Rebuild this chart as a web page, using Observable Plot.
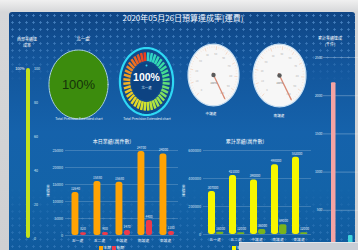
<!DOCTYPE html>
<html><head><meta charset="utf-8">
<script src="https://cdn.jsdelivr.net/npm/d3@7"></script>
<script src="https://cdn.jsdelivr.net/npm/@observablehq/plot@0.6"></script>
<style>
html,body{margin:0;padding:0;}
body{width:358px;height:250px;overflow:hidden;background:linear-gradient(180deg,#f0f0f0 0,#d6d7d9 12px,#cfd0d2 100%);font-family:"Noto Sans CJK TC","Noto Sans",sans-serif;}
#root{position:relative;width:358px;height:250px;overflow:hidden;}
#panel{position:absolute;left:9px;top:12px;width:346px;height:240px;border-radius:3px 3px 0 0;
 background:linear-gradient(180deg,#0f4584 0%,#13569c 22%,#1562ab 50%,#1363a8 75%,#105a9d 100%);}
#dots{position:absolute;left:9px;top:12px;width:346px;height:240px;
 background-image:radial-gradient(circle,rgba(120,180,240,.55) 0.9px,transparent 1.4px);background-size:7px 7px;
 -webkit-mask-image:linear-gradient(180deg,#000 0%,rgba(0,0,0,.7) 15%,rgba(0,0,0,0) 30%,rgba(0,0,0,0) 72%,rgba(0,0,0,.55) 100%);}
.t{position:absolute;color:#fff;white-space:nowrap;line-height:1;transform:translateX(-50%);text-align:center;}
.p{position:absolute;}
.p svg, svg.p{overflow:visible;}
</style></head>
<body><div id="root"><div id="panel"></div><div id="dots"></div></div>
<script>
// ---------- data ----------
const dashTitle = "2020年05月26日預算達成率(運費)";
const units = ["五一處","五二處","中護處","南護處","東護處"];
const seriesNames = ["本期","逾期"];
const dailyTitle = "本日業績(萬件數)";
const dailyActual = [12640, 15880, 15680, 24700, 24000];
const dailyOverdue = [820, 900, 1470, 4400, 1180];
const dailyTicks = [0, 5000, 10000, 15000, 20000, 25000];
const cumTitle = "累計業績(萬件數)";
const cumActual = [307000, 421000, 390000, 498000, 552000];
const cumOverdue = [16000, 12000, 36000, 69000, 12000];
const cumTicks = [0, 200000, 400000, 600000];
const westTitle = ["西部業績達", "成率"];
const westRate = 100;
const westTicks = [0, 20, 40, 60, 80, 100];
const northName = "北一處";
const northRate = 100;
const ringRate = 100;
const chartCaption = "Total Precision Extended chart";
const dialNames = ["中護處", "南護處"];
const dialValues = [100, 100];
const dialTicks = [0, 10, 20, 30, 40, 50, 60, 70, 80, 90, 100];
const totalTitle = ["累計業績達成", "(千件)"];
const totalNames = ["累計", "目標"];
const totalValues = [2170, 170];
const totalTicks = [0, 500, 1000, 1500, 2000, 2500];
const axisTitle = "業績量";

// ---------- helpers ----------
const root = document.getElementById("root");
const FONT = '"Noto Sans CJK TC","Noto Sans",sans-serif';
const sty = {background: "transparent", overflow: "visible", fontFamily: FONT};
const str = v => String(v);
function put(node, left, top) {
  node.classList.add("p");
  node.style.left = left + "px"; node.style.top = top + "px";
  root.appendChild(node); return node;
}
function label(html, x, y, size, extra) {
  const d = document.createElement("div");
  d.className = "t"; d.innerHTML = html;
  d.style.left = x + "px"; d.style.top = y + "px"; d.style.fontSize = size + "px";
  if (extra) Object.assign(d.style, extra);
  root.appendChild(d);
}
const rad = a => a * Math.PI / 180;
const ellipse = r => d3.range(0, 361, 5).map(a => ({x: r * Math.cos(rad(a)), y: r * Math.sin(rad(a))}));
function unitPlot(w, h, marks) {
  return Plot.plot({width: w, height: h, margin: 0,
    x: {domain: [-1, 1], axis: null}, y: {domain: [-1, 1], axis: null},
    style: sty, marks});
}

// ---------- title ----------
label(dashTitle, 183, 14, 8, {fontFamily: '"Noto Sans CJK TC",serif', color: "#f4f8ff"});

// ---------- west vertical gauge ----------
label(westTitle[0], 27, 36.5, 4);
label(westTitle[1], 27, 42.5, 4);
put(Plot.plot({
  width: 35, height: 195, marginTop: 18, marginBottom: 7, marginLeft: 14, marginRight: 7,
  x: {domain: ["西部"], padding: 0, axis: null},
  y: {domain: [0, 100], axis: null},
  style: sty,
  marks: [
    Plot.barY([westRate], {x: () => "西部", y: d => d, fill: "#c5e21c", insetLeft: 2, insetRight: 8, rx: 2}),
    Plot.text(westTicks, {y: d => d, text: str, frameAnchor: "left", dx: 9.5, textAnchor: "start", fontSize: 3.6, fill: "#dce8f6"}),
    Plot.text([westRate], {y: d => d, text: d => d + "%", frameAnchor: "left", dx: 0, textAnchor: "end", fontSize: 3.6, fill: "#ffffff"})
  ]
}), 10, 50);

// ---------- green circle gauge ----------
label(northName, 83, 36, 4.5);
put(unitPlot(60, 70, [
  Plot.line(ellipse(0.985), {x: "x", y: "y", fill: "#3c8c0d", stroke: "#a6cde0", strokeWidth: 1, curve: "linear-closed"}),
  Plot.text([northRate], {text: d => d + "%", frameAnchor: "middle", fontSize: 13, fill: "#15320a", fontFamily: "Liberation Sans", fontWeight: 500})
]), 48, 49);
label(chartCaption, 79, 117, 3.4, {color: "#e8f0fb"});

// ---------- segmented ring gauge ----------
const N = 40;
const segs = d3.range(N).map(i => {
  const a = rad(90 - (i + 0.5) * 360 / N);
  return {i, t: i / (N - 1), x1: 0.6 * Math.cos(a), y1: 0.6 * Math.sin(a), x2: 0.86 * Math.cos(a), y2: 0.86 * Math.sin(a)};
});
const ringColor = d3.interpolateRgbBasis(["#2fd4cf", "#35dc9a", "#7ee05a", "#d5e62a", "#f2d021", "#f39022", "#ec3c1e"]);
put(unitPlot(54, 68, [
  Plot.line(ellipse(0.985), {x: "x", y: "y", fill: "#0f4a8c", stroke: "#2ed8f4", strokeWidth: 2.2, curve: "linear-closed"}),
  Plot.line(ellipse(0.55), {x: "x", y: "y", fill: "#0d4382", curve: "linear-closed"}),
  Plot.link(segs, {x1: "x1", y1: "y1", x2: "x2", y2: "y2", strokeWidth: 2.5,
    stroke: d => (d.i + 1) / N <= ringRate / 100 + 1e-9 ? ringColor(d.t) : "#3b5f8a"}),
  Plot.dot([0], {x: () => 0, y: () => 0.47, r: 1, fill: "#39d6f0"}),
  Plot.text([ringRate], {text: d => d + "%", frameAnchor: "middle", dy: -4, fontSize: 10.5, fontWeight: "bold", fill: "#ffffff", fontFamily: "Liberation Sans"}),
  Plot.text([northName], {text: d => d, frameAnchor: "middle", dy: 6, fontSize: 3.4, fill: "#d8e6f8"})
]), 119, 47);
label(chartCaption, 147, 117, 3.4, {color: "#e8f0fb"});

// ---------- white dials ----------
const dialStart = 225, dialEnd = -60;
const dialAngle = v => rad(dialStart + (dialEnd - dialStart) * v / 100);
function dial(value, w, h) {
  const ticks = d3.range(0, 101, 2).map(v => {
    const b = dialAngle(v), big = v % 10 === 0;
    return {x1: 0.92 * Math.cos(b), y1: 0.92 * Math.sin(b), x2: (big ? 0.8 : 0.86) * Math.cos(b), y2: (big ? 0.8 : 0.86) * Math.sin(b), big};
  });
  return unitPlot(w, h, [
    Plot.line(ellipse(0.98), {x: "x", y: "y", fill: "#f7f7f7", stroke: "#c8dff2", strokeWidth: 1.2, curve: "linear-closed"}),
    Plot.link(ticks, {x1: "x1", y1: "y1", x2: "x2", y2: "y2", stroke: "#f1c8ae", strokeWidth: d => d.big ? 0.6 : 0.3}),
    Plot.text(dialTicks, {x: v => 0.66 * Math.cos(dialAngle(v)), y: v => 0.66 * Math.sin(dialAngle(v)), text: str, fontSize: 2.6, fill: "#b9b9b9"}),
    Plot.link([value], {x1: v => -0.08 * Math.cos(dialAngle(v)), y1: v => -0.08 * Math.sin(dialAngle(v)),
      x2: v => 0.88 * Math.cos(dialAngle(v)), y2: v => 0.88 * Math.sin(dialAngle(v)), stroke: "#d98b76", strokeWidth: 1.3}),
    Plot.dot([value], {x: () => 0, y: () => 0, r: 2.2, fill: "#5a5a5a"}),
    Plot.text([value], {text: d => d + "%", frameAnchor: "middle", dy: 8, fontSize: 2.6, fill: "#777"})
  ]);
}
put(dial(dialValues[0], 52, 63), 187, 43);
put(dial(dialValues[1], 54, 64), 252, 43);
label(dialNames[0], 211, 112, 3.6);
label(dialNames[1], 279, 114, 3.6);

// ---------- far right totals ----------
label(totalTitle[0], 330, 35.5, 4);
label(totalTitle[1], 330, 41.5, 4);
put(Plot.plot({
  width: 58, height: 210, marginTop: 17, marginBottom: 2, marginLeft: 23, marginRight: 0,
  x: {domain: totalNames, padding: 0, axis: null},
  y: {domain: [0, 2500], axis: null},
  style: sty,
  marks: [
    Plot.ruleY(totalTicks.slice(1), {stroke: "#ffffff", strokeOpacity: 0.45, strokeWidth: 0.6}),
    Plot.text(totalTicks.slice(1), {y: d => d, text: str, frameAnchor: "left", textAnchor: "end", dx: -1, fontSize: 3.4, fill: "#dce8f6"}),
    Plot.barY(totalNames.map((n, i) => ({n, v: totalValues[i]})), {x: "n", y: "v", fill: "n", insetLeft: 7, insetRight: 5.5, rx: 1})
  ],
  color: {domain: totalNames, range: ["#f4a3a3", "#3fd3dc"]}
}), 300, 40);

// ---------- grouped bar charts ----------
function grouped(actual, overdue, ticks, opts) {
  const rows = units.map((u, i) => ({unit: u, a: actual[i], o: overdue[i]}));
  return Plot.plot({
    width: opts.w, height: 115, marginTop: 15, marginBottom: opts.mb, marginLeft: opts.ml, marginRight: opts.mr,
    x: {domain: units, padding: 0, axis: null},
    y: {domain: [0, ticks[ticks.length - 1]], axis: null},
    style: sty,
    marks: [
      Plot.ruleY(ticks, {stroke: "#ffffff", strokeOpacity: 0.3, strokeWidth: 0.6}),
      Plot.text(ticks, {y: d => d, text: str, frameAnchor: "left", textAnchor: "end", dx: -2.5, fontSize: 3.8, fill: "#dce8f6"}),
      Plot.barY(rows, {x: "unit", y: "a", fill: opts.c1, insetLeft: opts.a[0], insetRight: opts.a[1], rx: 2.5}),
      Plot.barY(rows, {x: "unit", y: "o", fill: opts.c2, insetLeft: opts.b[0], insetRight: opts.b[1], rx: 2}),
      Plot.text(rows, {x: "unit", y: "a", text: d => str(d.a), dx: opts.da, dy: -3.5, fontSize: 3.2, fill: "#e6eefa"}),
      Plot.text(rows, {x: "unit", y: "o", text: d => str(d.o), dx: opts.db, dy: -3.5, fontSize: 3.2, fill: "#e6eefa"}),
      Plot.text(rows, {x: "unit", text: "unit", frameAnchor: "bottom", dy: 6.5, dx: -1, fontSize: 3.8, fill: "#e6eefa"})
    ]
  });
}
label(dailyTitle, 112, 138, 5);
put(grouped(dailyActual, dailyOverdue, dailyTicks,
  {w: 155, ml: 35, mr: 7, mb: 15, c1: "#ffa304", c2: "#ee3a4a", a: [4.5, 10.6], b: [13, 3], da: -3, db: 4.5}), 30, 135);
label(cumTitle, 245, 138, 5);
put(grouped(cumActual, cumOverdue, cumTicks,
  {w: 132, ml: 23, mr: 1, mb: 16, c1: "#f6f600", c2: "#79b41c", a: [3, 11], b: [11, 2.6], da: -3, db: 4.5}), 180, 135);

// vertical axis titles
label(axisTitle.split("").join("<br>"), 48, 185, 3.6, {color: "#dce8f6", lineHeight: "1.15"});
label(axisTitle.split("").join("<br>"), 183.5, 185, 3.6, {color: "#dce8f6", lineHeight: "1.15"});

// legends
const lg = (x, y, color, text) => {
  label(`<span style="display:inline-block;width:4px;height:4px;background:${color};vertical-align:middle;margin-right:1px"></span>${text}`, x, y, 3.8, {transform: "none"});
};
lg(98.5, 245.5, "#ffa304", seriesNames[0]);
lg(111.5, 245.5, "#ee3a4a", seriesNames[1]);
lg(231.5, 245.5, "#f6f600", seriesNames[0]);

// gray status box (screenshot overlay)
const box = document.createElement("div");
Object.assign(box.style, {position: "absolute", left: "239px", top: "242px", width: "119px", height: "8px", background: "#c9ced6", borderTop: "1px solid #e3e6ea"});
root.appendChild(box);
</script></body></html>
